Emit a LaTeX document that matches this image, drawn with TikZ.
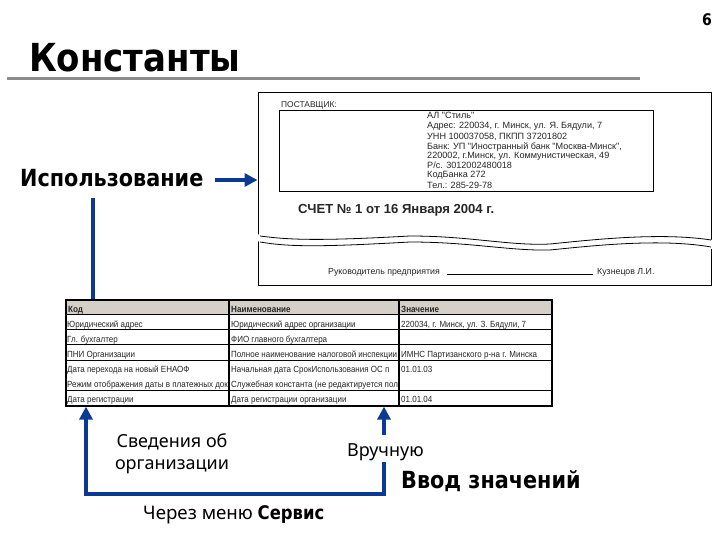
\documentclass[tikz,border=0pt]{standalone}
\usepackage{fontspec}
\setmainfont{Noto Sans}
\newfontfamily\docfont{Liberation Sans}
\newfontfamily\cellfont[FakeStretch=0.9]{Liberation Sans}
\newfontfamily\heavyfont[FakeStretch=0.88]{DejaVu Sans Bold}
\definecolor{arrowblue}{HTML}{0A3A96}
\definecolor{rulegrey}{HTML}{8C8C8C}
\definecolor{headgrey}{HTML}{D4D0C8}
\usetikzlibrary{arrows.meta}
\tikzset{
  txt/.style={inner sep=0pt,anchor=base west,text=black},
  label/.style={txt,font=\fontsize{18}{22}\selectfont},
  strong/.style={txt,font=\heavyfont\fontsize{23.6}{26}\selectfont},
  doc/.style={txt,font=\docfont\fontsize{9.1}{10}\selectfont,text=black!85},
  cell/.style={txt,font=\cellfont\fontsize{8.9}{10}\selectfont,text=black!85},
  cellhead/.style={cell,font=\cellfont\fontsize{9}{10}\selectfont\bfseries},
  flow/.style={draw=arrowblue,line width=4pt},
  flowhead/.style={flow,-{Triangle[length=13pt,width=13pt]}},
  frame/.style={draw=black,line width=1pt,inner sep=0pt},
  grid/.style={draw=black,line width=1.2pt}
}
\begin{document}
\begin{tikzpicture}[x=1pt,y=-1pt]
\useasboundingbox (0,0) rectangle (720,540);
% title
\node[txt,font=\heavyfont\fontsize{38.6}{42}\selectfont] (title) at (29,72) {Константы};
\node[txt,font=\heavyfont\fontsize{16}{18}\selectfont] (page) at (702,26) {6};
\fill[rulegrey] (7,77) rectangle (640,80);

% invoice
\node[frame,fill=white,minimum width=453pt,minimum height=192pt] (inv) at (484.5,189) {};
\node[frame,minimum width=374pt,minimum height=81pt] (sup) at (466,151.5) {};
\node[doc,font=\docfont\fontsize{8.4}{10}\selectfont] (s0) at (281,108) {ПОСТАВЩИК:};
\node[doc] (s1) at (427,119) {АЛ "Стиль"};
\node[doc] (s2) at (427,129) {Адрес: 220034, г. Минск, ул. Я. Бядули, 7};
\node[doc] (s3) at (427,140) {УНН 100037058, ПКПП 37201802};
\node[doc] (s4) at (427,150) {Банк: УП "Иностранный банк "Москва-Минск",};
\node[doc] (s5) at (427,159) {220002, г.Минск, ул. Коммунистическая, 49};
\node[doc] (s6) at (427,169) {Р/с. 3012002480018};
\node[doc] (s7) at (427,178) {КодБанка 272};
\node[doc] (s8) at (427,189) {Тел.: 285-29-78};
\node[txt,font=\docfont\fontsize{13.1}{14}\selectfont\bfseries,text=black!85] (bill) at (298,214) {СЧЕТ № 1 от 16 Января 2004 г.};
% torn band
\fill[white] (256,234) .. controls (290,240) and (320,241) .. (410,235) .. controls (470,236) and (520,248) .. (550,244) .. controls (590,236) and (660,232) .. (713,240) -- (713,249) .. controls (660,241) and (590,243) .. (550,250) .. controls (520,250) and (470,241) .. (410,242) .. controls (320,248) and (290,248) .. (256,241) -- cycle;
\draw[black,line width=.8pt] (260,236) .. controls (290,240) and (320,241) .. (410,236) .. controls (470,236) and (510,246) .. (550,244) .. controls (590,240) and (660,232) .. (711,240);
\draw[black,line width=.8pt] (260,242) .. controls (290,247) and (320,247) .. (410,242) .. controls (470,242) and (510,251) .. (550,250) .. controls (590,246) and (660,238) .. (711,247);
\node[doc,font=\docfont\fontsize{8.8}{10}\selectfont] (sign) at (328,274) {Руководитель предприятия};
\coordinate (signa) at (447,274);
\coordinate (signb) at (593,274);
\draw[black,line width=.8pt] (signa) -- (signb);
\node[doc,font=\docfont\fontsize{8.8}{10}\selectfont] (name) at (597,274) {Кузнецов Л.И.};

% table
\node[grid,fill=white,minimum width=486pt,minimum height=106pt,inner sep=0pt] (tab) at (309,353) {};
\fill[headgrey] (67,301) rectangle (551,314);
\draw[grid,line width=1pt] (66,314) -- (552,314) (66,329) -- (552,329) (66,344) -- (552,344) (66,360) -- (552,360) (66,390) -- (552,390);
\draw[grid,line width=1.6pt] (229,300) -- (229,406) (399,300) -- (399,406);
\draw[grid] (66,300) rectangle (552,406);
\node[cellhead] (h1) at (68,312) {Код};
\node[cellhead] (h2) at (231,312) {Наименование};
\node[cellhead] (h3) at (401,312) {Значение};
\node[cell] (a1) at (67,327) {Юридический адрес};
\node[cell] (a2) at (231,327) {Юридический адрес организации};
\node[cell] (a3) at (401,327) {220034, г. Минск, ул. З. Бядули, 7};
\node[cell] (b1) at (67,342) {Гл. бухгалтер};
\node[cell] (b2) at (231,342) {ФИО главного бухгалтера};
\node[cell] (c1) at (67,357) {ПНИ Организации};
\node[cell] (c2) at (231,357) {Полное наименование налоговой инспекции};
\node[cell] (c3) at (401,357) {ИМНС Партизанского р-на г. Минска};
\node[cell] (d1) at (67,372) {Дата перехода на новый ЕНАОФ};
\node[cell] (d2) at (231,372) {Начальная дата СрокИспользования ОС п};
\node[cell] (d3) at (401,372) {01.01.03};
\node[cell] (e1) at (67,387) {Режим отображения даты в платежных док};
\node[cell] (e2) at (231,387) {Служебная константа (не редактируется пол};
\node[cell] (f1) at (67,402) {Дата регистрации};
\node[cell] (f2) at (231,402) {Дата регистрации организации};
\node[cell] (f3) at (401,402) {01.01.04};

% labels
\node[strong] (use) at (20,187) {Использование};
\node[label,align=center,anchor=center] (org) at (172,454) {Сведения об\\организации};
\node[label] (hand) at (347,456) {Вручную};
\node[strong] (input) at (401,488) {Ввод значений};
\node[label,font=\fontsize{18.7}{22}\selectfont] (menu) at (143,519) {Через меню {\heavyfont Сервис}};

% connectors
\coordinate (useStart) at (215,180);
\draw[flowhead] (useStart) -- (useStart -| inv.west);
\coordinate (vtop) at (93,198);
\draw[flow] (vtop) -- (vtop |- tab.north);
\coordinate (bl) at (86,494);
\coordinate (br) at (384,494);
\coordinate (stub) at (384,462);
\coordinate (upper) at (384,435);
\draw[flowhead] (stub) -- (br) -- (bl) -- (bl |- tab.south);
\draw[flowhead] (upper) -- (upper |- tab.south);
\end{tikzpicture}
\end{document}
